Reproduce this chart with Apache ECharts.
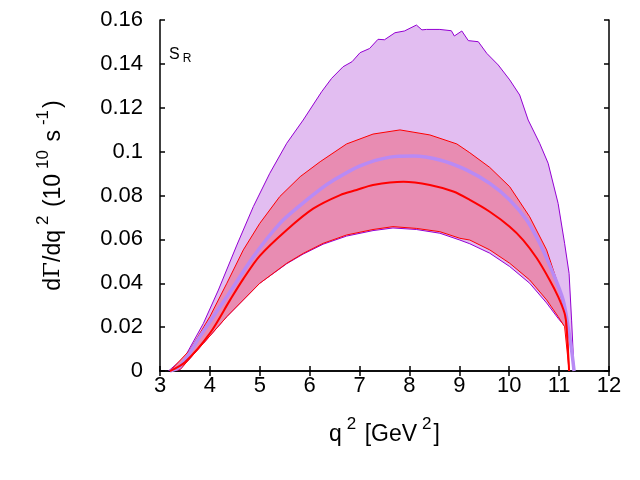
<!DOCTYPE html>
<html>
<head>
<meta charset="utf-8">
<script src="https://cdn.jsdelivr.net/npm/echarts@6/dist/echarts.min.js"></script>
<style>
  html, body { margin: 0; padding: 0; background: #fff; }
  #chart { width: 640px; height: 480px; }
</style>
</head>
<body>
<div id="chart"></div>
<script>
// [q2, dGamma/dq2] pairs
const purpleUpper = [
  [3.17, 0], [3.5, 0.0065], [3.87, 0.0217], [4.17, 0.0369], [4.54, 0.0574],
  [4.87, 0.0749], [5.2, 0.0901], [5.54, 0.1038], [5.87, 0.1144], [6.24, 0.1273],
  [6.44, 0.1334], [6.67, 0.1387], [6.85, 0.141], [7.01, 0.1451], [7.2, 0.147],
  [7.37, 0.1512], [7.5, 0.151], [7.71, 0.1542], [7.9, 0.155], [8.14, 0.1577],
  [8.25, 0.1555], [8.34, 0.1557], [8.61, 0.1557], [8.84, 0.1551], [8.9, 0.1527],
  [9.05, 0.155], [9.18, 0.1506], [9.38, 0.1501], [9.55, 0.1448], [9.78, 0.1395],
  [10.01, 0.1327], [10.21, 0.1258], [10.38, 0.1144], [10.61, 0.1038], [10.78, 0.0947],
  [10.98, 0.0764], [11.11, 0.0582], [11.2, 0.0445], [11.25, 0.0232], [11.3, 0]
];
const purpleLower = [
  [3.17, 0], [3.4, 0.0006], [3.87, 0.0126], [4.34, 0.0248], [5.0, 0.040],
  [5.54, 0.0489], [5.87, 0.0533], [6.27, 0.0578], [6.74, 0.0615], [7.27, 0.064],
  [7.67, 0.0652], [8.14, 0.0645], [8.61, 0.0628], [9.01, 0.0597], [9.21, 0.058],
  [9.61, 0.0537], [10.01, 0.0476], [10.41, 0.040], [10.75, 0.031], [10.98, 0.024],
  [11.11, 0.0205], [11.18, 0.0202], [11.25, 0.0096], [11.3, 0]
];
const redUpper = [
  [3.2, 0], [3.6, 0.0096], [4.0, 0.0248], [4.34, 0.040], [4.67, 0.0552],
  [5.0, 0.0673], [5.4, 0.0795], [5.81, 0.0886], [6.21, 0.0954], [6.74, 0.1035],
  [7.27, 0.108], [7.81, 0.1099], [8.41, 0.1076], [8.95, 0.1035], [9.21, 0.0995],
  [9.61, 0.0928], [10.01, 0.084], [10.41, 0.0703], [10.75, 0.0552], [10.95, 0.0415],
  [11.11, 0.0278], [11.18, 0.011], [11.2, 0]
];
const redLower = [
  [3.2, 0], [3.4, 0.0006], [3.87, 0.0126], [4.34, 0.0248], [5.0, 0.040],
  [5.54, 0.0491], [5.87, 0.0536], [6.27, 0.0582], [6.74, 0.062], [7.27, 0.0645],
  [7.67, 0.0658], [8.14, 0.065], [8.61, 0.0635], [9.01, 0.0605], [9.21, 0.0597],
  [9.61, 0.0552], [10.01, 0.0491], [10.41, 0.0415], [10.75, 0.0324], [10.98, 0.0248],
  [11.11, 0.0202], [11.2, 0]
];
const purpleCentral = [
  [3.2, 0], [3.4, 0.002], [3.8, 0.0157], [4.34, 0.0339], [4.87, 0.0521],
  [5.4, 0.0672], [5.81, 0.0755], [6.21, 0.0828], [6.47, 0.0868], [7.01, 0.0935],
  [7.61, 0.0975], [8.08, 0.098], [8.61, 0.0962], [9.15, 0.0916], [9.61, 0.0855],
  [10.01, 0.078], [10.35, 0.0688], [10.61, 0.0582], [10.88, 0.0445], [11.08, 0.0324],
  [11.18, 0.0202], [11.25, 0.0096], [11.3, 0]
];
const redCentral = [
  [3.2, 0], [3.5, 0.004], [4.0, 0.0172], [4.4, 0.0322], [4.67, 0.042],
  [5.0, 0.0525], [5.54, 0.0643], [6.07, 0.074], [6.61, 0.0802], [6.94, 0.0825],
  [7.27, 0.0848], [7.88, 0.0863], [8.41, 0.0848], [8.88, 0.0818], [9.21, 0.078],
  [9.61, 0.0726], [10.01, 0.0658], [10.28, 0.0597], [10.55, 0.0515], [10.81, 0.0415],
  [10.98, 0.0339], [11.11, 0.0263], [11.15, 0.0202], [11.2, 0]
];
const xTicks = [3, 4, 5, 6, 7, 8, 9, 10, 11, 12];
const yTicks = [0, 0.02, 0.04, 0.06, 0.08, 0.1, 0.12, 0.14, 0.16];

const font = "Liberation Sans, Arial, sans-serif";

// rich styles for axis titles with superscripts
const nameRich = {
  m: { fontSize: 23, fontFamily: font, color: "#000", lineHeight: 30, verticalAlign: "bottom" },
  sup: { fontSize: 17, fontFamily: font, color: "#000", lineHeight: 17, verticalAlign: "top", padding: [0, 2, 0, 5] },
  g: { fontSize: 23, fontFamily: "DejaVu Serif, serif", color: "#000", lineHeight: 30, verticalAlign: "bottom" }
};

function band(upper, lower, fill, stroke) {
  return {
    type: "custom",
    data: upper,
    clip: true,
    renderItem: function (params, api) {
      if (params.dataIndex !== 0) return;
      const pts = upper.map(p => api.coord(p))
        .concat(lower.slice().reverse().map(p => api.coord(p)));
      return {
        type: "polygon",
        shape: { points: pts },
        style: { fill: fill, stroke: stroke, lineWidth: 1 }
      };
    }
  };
}

function axisCommon(show) {
  return {
    axisLine: { show: true, lineStyle: { color: "#000", width: 1.5 } },
    axisTick: { show: true, inside: true, length: 5, lineStyle: { color: "#000", width: 1.5 } },
    splitLine: { show: false },
    axisLabel: { show: show }
  };
}

const chart = echarts.init(document.getElementById("chart"));
chart.setOption({
  animation: false,
  backgroundColor: "#fff",
  grid: { left: 160, right: 31, top: 20, bottom: 109 },
  xAxis: [
    Object.assign({
      type: "value", min: xTicks[0], max: xTicks[xTicks.length - 1], interval: 1,
      name: "{m|q}{sup|2}{m| [GeV}{sup|2}{m|]}", nameLocation: "middle", nameGap: 45,
      nameTextStyle: { rich: nameRich }
    }, axisCommon(true), {
      axisLabel: { color: "#000", fontSize: 22, fontFamily: font, margin: 4 }
    }),
    Object.assign({
      type: "value", position: "top", min: 3, max: 12, interval: 1
    }, axisCommon(false))
  ],
  yAxis: [
    Object.assign({
      type: "value", min: yTicks[0], max: yTicks[yTicks.length - 1], interval: 0.02,
      name: "{m|d}{g|\u0393}{m|/dq}{sup|2}{m| (10}{sup|10}{m| s}{sup|-1}{m|)}",
      nameLocation: "middle", nameGap: 95,
      nameTextStyle: { rich: nameRich }
    }, axisCommon(true), {
      axisLabel: {
        color: "#000", fontSize: 22, fontFamily: font, margin: 17,
        padding: [0, 0, 10, 0],
        formatter: v => String(+v.toFixed(2))
      }
    }),
    Object.assign({
      type: "value", position: "right", min: 0, max: 0.16, interval: 0.02
    }, axisCommon(false))
  ],
  graphic: [{
    type: "text", left: 169, top: 46,
    style: {
      text: "{s|S}{r|R}",
      rich: {
        s: { fontSize: 16, fontFamily: font, fill: "#000", lineHeight: 18, verticalAlign: "top" },
        r: { fontSize: 12, fontFamily: font, fill: "#000", lineHeight: 12, padding: [7, 0, 0, 3] }
      }
    }
  }],
  series: [
    band(purpleUpper, purpleLower, "#e2bdf1", "#9400d3"),
    band(redUpper, redLower, "#e88cb2", "#ff0000"),
    {
      type: "line", data: purpleCentral, showSymbol: false, smooth: 0.3,
      lineStyle: { color: "#b88af5", width: 3.5 }
    },
    {
      type: "line", data: redCentral, showSymbol: false, smooth: 0.3,
      lineStyle: { color: "#ff0000", width: 2 }
    }
  ]
});
</script>
</body>
</html>
